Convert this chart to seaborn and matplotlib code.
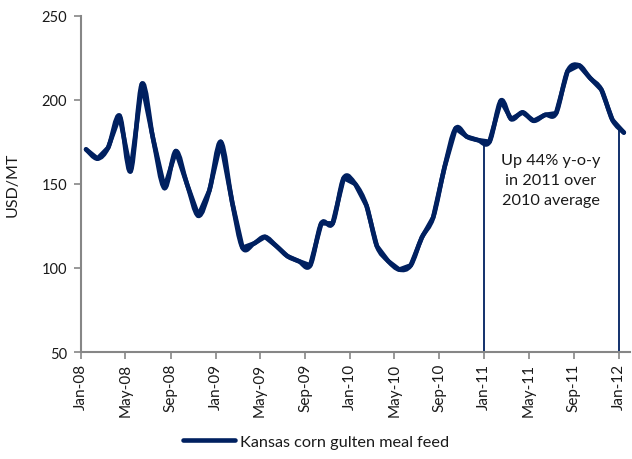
import numpy as np
import pandas as pd
import matplotlib
matplotlib.use("Agg")
import matplotlib.pyplot as plt
import matplotlib.dates as mdates
from matplotlib.path import Path
from matplotlib.patches import PathPatch
import seaborn as sns

# Monthly price, Kansas corn gluten meal feed (USD/MT), Jan-2008 .. Jan-2012
months = pd.date_range("2008-01-01", "2012-01-01", freq="MS")
price = [
    170.5, 165, 171.5, 190.5, 157.5, 209.5, 177, 147.5, 169.5, 150, 131, 146,
    175, 139, 112, 114.5, 118.5, 113, 107, 104, 101.5, 126.5, 126.5, 153.5,
    150, 137, 113, 104, 99, 101.5, 118, 130, 160, 183, 178, 176,
    175, 199.5, 188.5, 192.5, 187.5, 191, 192, 217, 220.5, 213, 206, 188,
    180.5,
]
series_name = "Kansas corn gulten meal feed"
annotation = "Up 44% y-o-y\nin 2011 over\n2010 average"
marker_dates = ["2011-01-01", "2012-01-01"]
marker_levels = [174, 182.5]

NAVY = "#002060"
GREY = "#868686"
INK = "#1a1a1a"

sns.set_theme(style="white")
plt.rcParams["font.family"] = ["Lato", "DejaVu Sans"]

df = pd.DataFrame({"date": months + pd.Timedelta(days=14), "price": price})

fig = plt.figure(figsize=(6.32, 4.60), dpi=100)
ax = fig.add_axes([0.128, 0.2326, 0.869, 0.7311])

# base series (gives the legend entry)
sns.lineplot(data=df, x="date", y="price", ax=ax, color=NAVY, linewidth=3.3,
             label=series_name, legend=False)

# smoothed rendering of the same series as cubic Bezier segments
xs = mdates.date2num(df["date"])
ys = np.asarray(price, dtype=float)
pts = np.column_stack([xs, ys])
ext = np.vstack([pts[0], pts, pts[-1]])
verts = [tuple(pts[0])]
codes = [Path.MOVETO]
for i in range(1, len(ext) - 2):
    p0, p1, p2, p3 = ext[i - 1], ext[i], ext[i + 1], ext[i + 2]
    c1 = p1 + (p2 - p0) / 6.0
    c2 = p2 - (p3 - p1) / 6.0
    verts += [tuple(c1), tuple(c2), tuple(p2)]
    codes += [Path.CURVE4] * 3
ax.add_patch(PathPatch(Path(verts, codes), facecolor="none", edgecolor=NAVY,
                       linewidth=3.3, capstyle="round", joinstyle="round",
                       zorder=3))

# period markers
ax.vlines(pd.to_datetime(marker_dates), 50, marker_levels, color=NAVY,
          linewidth=1.3, zorder=2)

ax.text(0.856, 0.511, annotation, transform=ax.transAxes, ha="center",
        va="center", fontsize=11.7, color=INK, linespacing=1.55)

ax.set_ylim(50, 250)
ax.set_yticks([50, 100, 150, 200, 250])
ax.set_xlim(pd.Timestamp("2008-01-01"), pd.Timestamp("2012-02-01"))
ax.xaxis.set_major_locator(mdates.MonthLocator(bymonth=[1, 5, 9]))
ax.xaxis.set_major_formatter(mdates.DateFormatter("%b-%y"))

ax.set_xlabel("")
ax.set_ylabel("USD/MT", fontsize=11.5, color=INK)
ax.yaxis.set_label_coords(-0.112, 0.5)

for side in ("top", "right"):
    ax.spines[side].set_visible(False)
for side in ("left", "bottom"):
    ax.spines[side].set_color(GREY)
    ax.spines[side].set_linewidth(1.5)

ax.tick_params(axis="y", which="major", left=True, length=5, width=1.2,
               color=GREY, labelsize=10.5, labelcolor=INK, pad=5)
ax.tick_params(axis="x", which="major", bottom=True, length=5, width=1.2,
               color=GREY, labelsize=11, labelcolor=INK, pad=3,
               labelrotation=90)
ax.grid(False)

fig.legend(loc="center", bbox_to_anchor=(0.5, 0.037), frameon=False,
           fontsize=11.7, handlelength=3.2, handletextpad=0.3,
           labelcolor=INK)

fig.savefig("out.png", dpi=100)
